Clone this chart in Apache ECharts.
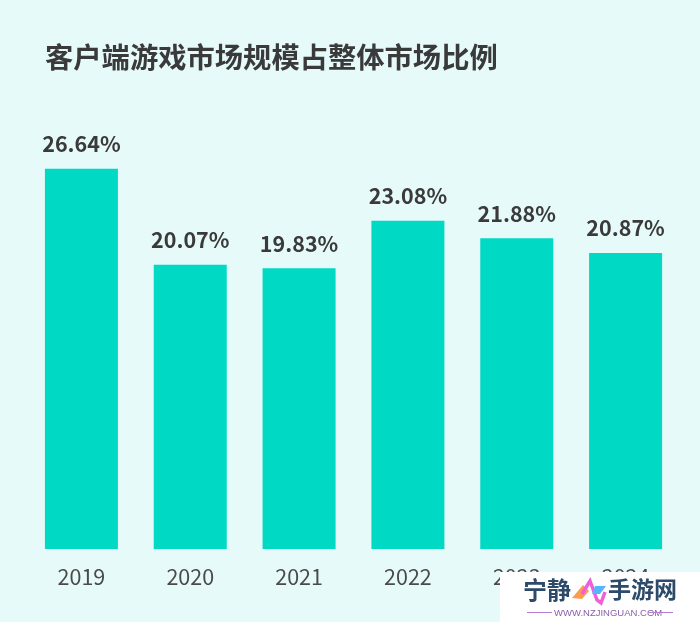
<!DOCTYPE html>
<html><head><meta charset="utf-8">
<style>html,body{margin:0;padding:0;background:#e6fafa}#c{width:700px;height:622px}</style>
<script src="https://cdn.jsdelivr.net/npm/echarts@6/dist/echarts.min.js"></script>
</head><body><div id="c"></div>
<script>
const titleText = '客户端游戏市场规模占整体市场比例';
const years = ['2019','2020','2021','2022','2023','2024'];
const shares = [26.64,20.07,19.83,23.08,21.88,20.87];
const cjk = '"Noto Sans CJK SC","Noto Sans",sans-serif';
const chart = echarts.init(document.getElementById('c'));
chart.setOption({
  animation:false,
  backgroundColor:'#e6fafa',
  title:{text:titleText,left:40,top:38,textStyle:{fontFamily:cjk,fontSize:28.3,fontWeight:700,color:'#3a3a3a'}},
  grid:{left:27,right:20,top:111,bottom:73},
  xAxis:{type:'category',data:years,axisLine:{show:false},axisTick:{show:false},
    axisLabel:{margin:17,fontFamily:cjk,fontSize:21.5,color:'#4a4a4a'}},
  yAxis:{type:'value',min:0.6,max:30.6,show:false,splitLine:{show:false}},
  series:[{type:'bar',data:shares,barWidth:73,itemStyle:{color:'#00d9c4'},
    label:{show:true,position:'top',distance:14,formatter:p=>p.value.toFixed(2)+'%',
      fontFamily:cjk,fontSize:21.5,fontWeight:700,color:'#3a3a3a'}}],
  graphic:[
    {type:'rect',z:100,shape:{x:500,y:572,width:200,height:50},style:{fill:'#ffffff'}},
    {type:'text',z:101,x:523,y:578,style:{text:'宁静',font:'700 24px '+cjk,fill:'#2d4a6b'}},
    {type:'text',z:101,x:608,y:578,style:{text:'手游网',font:'700 23px '+cjk,fill:'#2d4a6b'}},
    {type:'polygon',z:101,shape:{points:[[572,598],[583,585],[589,591],[582,599]]},style:{fill:'#ff9a50'}},
    {type:'polyline',z:101,shape:{points:[[582,594],[590,581],[597,600],[601,603],[605,592]]},style:{fill:'none',stroke:'#ee5fdc',lineWidth:3.5}},
    {type:'polygon',z:101,shape:{points:[[595,586],[606,586],[600,594],[592,594]]},style:{fill:'#55b5ff'}},
    {type:'text',z:101,x:554,y:608,style:{text:'WWW.NZJINGUAN.COM',font:'9.5px "Liberation Sans",sans-serif',fill:'#8a5fa8'}},
    {type:'line',z:101,shape:{x1:527,y1:612.5,x2:552,y2:612.5},style:{stroke:'#b57fd0',lineWidth:1}},
    {type:'line',z:101,shape:{x1:648,y1:612.5,x2:673,y2:612.5},style:{stroke:'#b57fd0',lineWidth:1}}
  ]
});
</script></body></html>
